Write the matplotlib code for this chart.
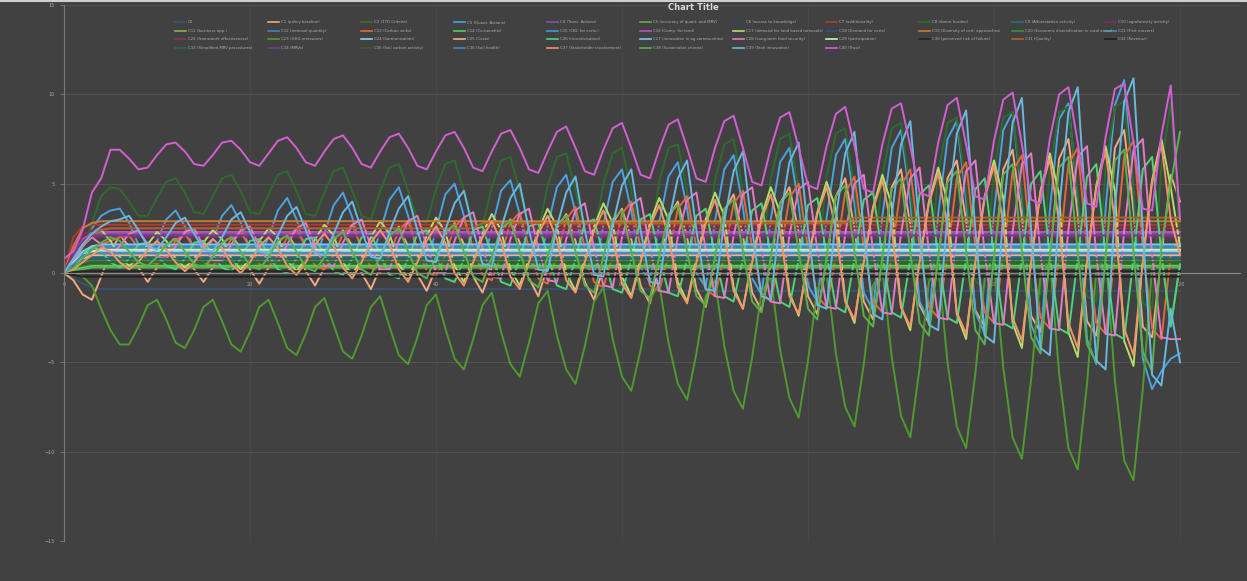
import matplotlib
matplotlib.use("Agg")
import matplotlib.pyplot as plt
from matplotlib.lines import Line2D
import numpy as np

# ============================================================
# 0) Data (read off the reference chart)
# ============================================================
names = [
    "C0", "C1 (policy baseline)", "C2 (17D Criteria)", "C3 (Quant. Actions)", "C4 (Trans. Actions)",
    "C5 (accuracy of quant. and MRV)", "C6 (access to knowledge)", "C7 (additionality)", "C8 (donor burden)",
    "C9 (Afforestation activity)", "C10 (agroforestry activity)",
    "C11 (business opp.)", "C12 (removal quantity)", "C13 (Carbon sinks)", "C14 (Co-benefits)",
    "C15 (CBC for certs.)", "C16 (Comp. for land)", "C17 (demand for land based removals)",
    "C18 (Demand for certs)", "C19 (Diversity of cert. approaches)",
    "C20 (Economic diversification in rural areas)", "C21 (First movers)",
    "C22 (framework effectiveness)", "C23 (GHG emissions)", "C24 (harmonisation)", "C25 (Costs)",
    "C26 (incentivisation)", "C27 (innovation in ag communities)", "C28 (Long-term food security)",
    "C29 (participation)", "C30 (perceived risk of failure)", "C31 (Quality)", "C32 (Revenue)",
    "C33 (Simplified MRV procedures)", "C34 (MRVs)", "C35 (Soil carbon activity)", "C36 (Soil health)",
    "C37 (Stakeholder involvement)", "C38 (Sustainable criteria)", "C39 (Tech innovation)", "C40 (Trust)",
]

c0 = [0.0, -0.3, -0.6, -0.8] + [-0.9] * 60 + [-1.0] * 57
c1 = [0.0, -0.4, -1.2, -1.5, -0.2, 1.2,
      2.1, 1.5, 0.3, -0.5, 0.3, 1.5,
      2.0, 1.3, 0.2, -0.5, 0.3, 1.6,
      2.1, 1.4, 0.2, -0.6, 0.3, 1.7,
      2.2, 1.4, 0.1, -0.7, 0.3, 1.8,
      2.4, 1.5, 0.0, -0.9, 0.3, 1.9,
      2.6, 1.5, -0.1, -1.0, 0.3, 2.1,
      2.8, 1.6, -0.2, -1.1, 0.3, 2.3,
      3.0, 1.7, -0.3, -1.3, 0.4, 2.5,
      3.3, 1.8, -0.5, -1.5, 0.4, 2.8,
      3.6, 1.9, -0.7, -1.7, 0.4, 3.1,
      4.0, 2.0, -0.9, -1.9, 0.5, 3.5,
      4.4, 2.1, -1.1, -2.1, 0.5, 3.9,
      4.8, 2.3, -1.3, -2.3, 0.6, 4.3,
      5.3, 2.5, -1.6, -2.6, 0.6, 4.8,
      5.8, 2.7, -1.8, -2.8, 0.7, 5.3,
      6.3, 2.9, -2.1, -3.0, 0.7, 5.8,
      6.9, 3.1, -2.4, -3.3, 0.8, 6.4,
      7.5, 3.3, -2.7, -3.5, 0.8, 7.0,
      8.0, 3.5, -3.0, -3.6, 0.9, 5.5,
      4.0]
c2 = [0.0, 0.2, 0.4] + [0.5] * 118
c3 = [0.0, 0.6, 1.5, 2.5, 3.2, 3.5,
      3.6, 2.8, 1.6, 1.1, 1.8, 3.0,
      3.5, 2.6, 1.3, 1.0, 1.9, 3.2,
      3.8, 2.8, 1.3, 0.9, 2.0, 3.5,
      4.2, 3.0, 1.3, 0.8, 2.2, 3.8,
      4.5, 3.1, 1.2, 0.7, 2.3, 4.1,
      4.8, 3.2, 1.1, 0.5, 2.4, 4.4,
      5.0, 3.2, 0.9, 0.3, 2.5, 4.6,
      5.2, 3.3, 0.7, 0.1, 2.6, 4.8,
      5.5, 3.4, 0.5, -0.2, 2.7, 5.1,
      5.8, 3.5, 0.3, -0.5, 2.8, 5.4,
      6.2, 3.6, 0.0, -0.8, 2.9, 5.8,
      6.6, 3.7, -0.3, -1.2, 3.0, 6.2,
      7.0, 3.8, -0.7, -1.6, 3.1, 6.6,
      7.5, 3.9, -1.1, -2.1, 3.2, 7.0,
      8.0, 4.0, -1.6, -2.7, 3.3, 7.5,
      8.5, 4.1, -2.2, -3.4, 3.4, 8.0,
      9.0, 4.2, -2.9, -4.2, 3.5, 8.6,
      9.5, 4.3, -3.7, -5.1, 3.6, 9.4,
      10.8, 4.4, -4.8, -6.5, -5.5, -4.8,
      -4.5]
c4 = [0.0, 0.8, 1.6, 2.0] + [2.2] * 117
c5 = [0.0, 0.1, 0.2] + [0.3] * 118
c6 = [0.0, 0.3, 0.5] + [0.6] * 118
c7 = [0.0, 2.0, 2.6] + [2.7] * 118
c8 = [0.0, 0.4, 1.2, 2.8, 4.3, 4.8,
      4.7, 4.0, 3.2, 3.2, 4.2, 5.1,
      5.3, 4.5, 3.4, 3.3, 4.3, 5.3,
      5.5, 4.6, 3.4, 3.3, 4.4, 5.5,
      5.7, 4.6, 3.3, 3.2, 4.5, 5.7,
      5.9, 4.6, 3.2, 3.0, 4.6, 5.9,
      6.1, 4.6, 3.0, 2.8, 4.7, 6.1,
      6.3, 4.6, 2.8, 2.6, 4.8, 6.3,
      6.5, 4.6, 2.5, 2.3, 4.9, 6.5,
      6.7, 4.6, 2.2, 2.0, 5.0, 6.7,
      7.0, 4.6, 1.9, 1.6, 5.1, 7.0,
      7.2, 4.6, 1.5, 1.2, 5.2, 7.2,
      7.5, 4.6, 1.1, 0.8, 5.3, 7.5,
      7.8, 4.6, 0.7, 0.4, 5.4, 7.8,
      8.1, 4.6, 0.3, 0.0, 5.5, 8.1,
      8.4, 4.6, -0.1, -0.4, 5.6, 8.4,
      8.7, 4.6, -0.5, -0.8, 5.7, 8.7,
      9.0, 4.6, -0.9, -1.2, 5.8, 9.0,
      9.3, 4.6, -1.3, -1.6, 5.9, 9.3,
      9.6, 4.6, -1.7, -2.0, 6.0, 9.5,
      2.0]
c9 = [0.0, 0.4, 0.7] + [0.9] * 118
c10 = [0.0, 1.0, 1.7] + [2.0] * 118
c11 = [0.0, 0.4, 0.8, 1.0] + [1.1] * 117
c12 = [0.0, 0.6, 1.1, 1.4] + [1.5] * 117
c13 = [0.0, 0.5, 1.0, 1.4, 1.6, 1.8,
       2.0, 2.1, 1.4, 0.7, 0.5, 1.0,
       1.8, 2.2, 1.4, 0.6, 0.4, 1.0,
       1.9, 2.3, 1.4, 0.5, 0.3, 1.0,
       2.0, 2.5, 1.4, 0.4, 0.2, 1.0,
       2.2, 2.7, 1.4, 0.3, 0.0, 1.0,
       2.4, 2.9, 1.4, 0.1, -0.2, 1.0,
       2.6, 3.1, 1.4, -0.1, -0.4, 1.0,
       2.8, 3.4, 1.4, -0.3, -0.6, 1.0,
       3.0, 3.7, 1.4, -0.5, -0.8, 1.0,
       3.3, 4.0, 1.4, -0.7, -1.0, 1.0,
       3.6, 4.3, 1.4, -0.9, -1.3, 1.0,
       3.9, 4.6, 1.4, -1.1, -1.6, 1.0,
       4.2, 5.0, 1.4, -1.3, -1.9, 1.0,
       4.5, 5.4, 1.4, -1.6, -2.2, 1.0,
       4.9, 5.8, 1.4, -1.9, -2.5, 1.0,
       5.3, 6.2, 1.4, -2.2, -2.8, 1.0,
       5.7, 6.6, 1.4, -2.5, -3.1, 1.0,
       6.1, 7.0, 1.4, -2.8, -3.4, 1.0,
       6.5, 7.4, 1.4, -3.1, -3.7, 1.0,
       2.0]
c14 = [0.0, 0.2, 0.3] + [0.4] * 118
c15 = [0.0, 0.5, 0.9, 1.2] + [1.3] * 117
c16 = [0.0, 1.0, 1.9, 2.2] + [2.3] * 117
c17 = [0.0, 0.6, 1.5, 2.1, 2.4, 1.8,
       0.9, 0.4, 0.8, 1.6, 2.3, 1.8,
       0.8, 0.3, 0.8, 1.7, 2.4, 1.9,
       0.8, 0.2, 0.8, 1.8, 2.5, 2.0,
       0.7, 0.1, 0.8, 1.9, 2.7, 2.1,
       0.6, -0.1, 0.8, 2.0, 2.9, 2.2,
       0.5, -0.3, 0.8, 2.1, 3.1, 2.3,
       0.4, -0.5, 0.8, 2.2, 3.3, 2.4,
       0.2, -0.7, 0.8, 2.4, 3.6, 2.6,
       0.0, -1.0, 0.8, 2.6, 3.9, 2.8,
       -0.2, -1.3, 0.8, 2.8, 4.2, 3.0,
       -0.5, -1.6, 0.8, 3.0, 4.5, 3.2,
       -0.8, -2.0, 0.8, 3.2, 4.8, 3.4,
       -1.1, -2.4, 0.8, 3.4, 5.1, 3.6,
       -1.5, -2.8, 0.8, 3.7, 5.5, 3.8,
       -1.9, -3.2, 0.8, 4.0, 5.9, 4.0,
       -2.3, -3.7, 0.8, 4.3, 6.3, 4.2,
       -2.8, -4.2, 0.8, 4.6, 6.7, 4.4,
       -3.3, -4.7, 0.8, 4.9, 7.1, 4.6,
       -3.8, -5.2, 0.8, 5.2, 7.5, 4.8,
       1.5]
c18 = [0.0, 0.5, 0.9] + [1.1] * 118
c19 = [0.0, 1.5, 2.5, 2.8] + [2.9] * 117
c20 = [0.0, 0.4, 0.6] + [0.7] * 118
c21 = [0.0, 0.6, 1.1, 1.3] + [1.4] * 117
c22 = [0.0, 1.2, 2.1, 2.4] + [2.5] * 117
c23 = [0.0, 0.0, -0.2, -0.7, -2.0, -3.2,
       -4.0, -4.0, -3.0, -1.8, -1.5, -2.6,
       -3.9, -4.2, -3.2, -1.9, -1.5, -2.7,
       -4.0, -4.4, -3.3, -1.9, -1.5, -2.8,
       -4.2, -4.6, -3.4, -1.9, -1.4, -2.9,
       -4.4, -4.8, -3.5, -1.9, -1.3, -3.0,
       -4.6, -5.1, -3.6, -1.8, -1.2, -3.1,
       -4.8, -5.4, -3.7, -1.8, -1.1, -3.3,
       -5.1, -5.8, -3.9, -1.7, -1.0, -3.5,
       -5.4, -6.2, -4.1, -1.6, -0.8, -3.7,
       -5.8, -6.6, -4.3, -1.5, -0.6, -3.9,
       -6.2, -7.1, -4.5, -1.3, -0.4, -4.1,
       -6.6, -7.6, -4.7, -1.1, -0.2, -4.3,
       -7.0, -8.1, -4.9, -0.9, 0.0, -4.5,
       -7.5, -8.6, -5.1, -0.7, 0.2, -4.7,
       -8.0, -9.2, -5.3, -0.5, 0.4, -5.0,
       -8.6, -9.8, -5.6, -0.3, 0.6, -5.3,
       -9.2, -10.4, -5.9, -0.1, 0.8, -5.6,
       -9.8, -11.0, -6.2, 0.1, 1.0, -6.0,
       -10.5, -11.6, -6.5, 0.3, 1.2, -3.0,
       0.5]
c24 = [0.0, 0.6, 1.0] + [1.2] * 118
c25 = [0.0, 0.4, 0.8] + [1.0] * 118
c26 = [0.0, 0.4, 1.0, 1.5, 1.2, 0.6,
       0.3, 0.8, 1.6, 1.7, 1.0, 0.4,
       0.2, 0.8, 1.7, 1.8, 1.0, 0.3,
       0.1, 0.8, 1.8, 1.9, 1.0, 0.2,
       0.0, 0.8, 1.9, 2.0, 1.0, 0.1,
       -0.1, 0.8, 2.0, 2.2, 1.0, -0.1,
       -0.3, 0.8, 2.2, 2.4, 1.0, -0.3,
       -0.5, 0.8, 2.4, 2.6, 1.0, -0.5,
       -0.7, 0.8, 2.6, 2.8, 1.0, -0.7,
       -0.9, 0.8, 2.8, 3.0, 1.0, -0.9,
       -1.1, 0.8, 3.0, 3.3, 1.0, -1.1,
       -1.3, 0.8, 3.2, 3.6, 1.0, -1.3,
       -1.6, 0.8, 3.5, 3.9, 1.0, -1.6,
       -1.9, 0.8, 3.8, 4.2, 1.0, -1.9,
       -2.2, 0.8, 4.1, 4.5, 1.0, -2.2,
       -2.5, 0.8, 4.4, 4.9, 1.0, -2.5,
       -2.8, 0.8, 4.7, 5.3, 1.0, -2.8,
       -3.1, 0.8, 5.0, 5.7, 1.0, -3.1,
       -3.4, 0.8, 5.4, 6.1, 1.0, -3.4,
       -3.7, 0.8, 5.8, 6.5, 1.0, -3.0,
       0.5]
c27 = [0.0, 0.7, 1.2, 1.5] + [1.6] * 117
c28 = [0.0, 0.7, 1.5, 2.0, 1.6, 1.0,
       1.5, 2.2, 2.4, 1.6, 0.9, 0.8,
       1.5, 2.3, 2.5, 1.5, 0.7, 0.7,
       1.6, 2.4, 2.6, 1.5, 0.6, 0.6,
       1.6, 2.5, 2.8, 1.5, 0.4, 0.4,
       1.7, 2.7, 3.0, 1.5, 0.2, 0.2,
       1.8, 2.9, 3.2, 1.5, 0.0, 0.0,
       1.8, 3.1, 3.4, 1.4, -0.2, -0.3,
       1.9, 3.3, 3.6, 1.4, -0.4, -0.5,
       1.9, 3.5, 3.9, 1.4, -0.7, -0.8,
       2.0, 3.8, 4.2, 1.4, -1.0, -1.1,
       2.0, 4.1, 4.5, 1.3, -1.3, -1.4,
       2.1, 4.4, 4.8, 1.3, -1.6, -1.7,
       2.1, 4.7, 5.1, 1.3, -1.9, -2.0,
       2.2, 5.0, 5.5, 1.2, -2.2, -2.3,
       2.2, 5.3, 5.9, 1.2, -2.5, -2.6,
       2.3, 5.7, 6.3, 1.1, -2.8, -2.9,
       2.3, 6.1, 6.7, 1.1, -3.1, -3.2,
       2.4, 6.5, 7.1, 1.0, -3.4, -3.5,
       2.4, 6.9, 7.5, 1.0, -3.6, -3.7,
       -3.7]
c29 = [0.0, 0.6, 1.0, 1.2] + [1.3] * 117
c30 = [0.0, 0.05] + [0.1] * 119
c31 = [0.0, 0.8, 1.6, 2.1, 2.4] + [2.5] * 40 + [2.8] * 40 + [3.1] * 36
c32 = [0.0, -0.1] + [-0.2] * 119
c33 = [0.0, 0.4, 0.7] + [0.8] * 118
c34 = [0.0, 1.0, 1.8] + [2.1] * 118
c35 = [0.0, 0.3, 0.5] + [0.6] * 118
c36 = [0.0, 0.5, 1.0] + [1.1] * 118
c37 = [0.0, 0.2, 0.6, 1.0, 1.4, 1.2,
       0.6, 0.2, 0.6, 1.3, 1.8, 1.3,
       0.6, 0.1, 0.6, 1.4, 1.9, 1.4,
       0.5, 0.0, 0.6, 1.5, 2.0, 1.4,
       0.4, -0.1, 0.6, 1.6, 2.2, 1.5,
       0.3, -0.3, 0.6, 1.7, 2.4, 1.6,
       0.2, -0.5, 0.6, 1.8, 2.6, 1.7,
       0.0, -0.7, 0.6, 2.0, 2.9, 1.8,
       -0.2, -0.9, 0.6, 2.2, 3.2, 1.9,
       -0.4, -1.1, 0.6, 2.4, 3.5, 2.0,
       -0.6, -1.4, 0.6, 2.6, 3.8, 2.1,
       -0.8, -1.7, 0.6, 2.8, 4.1, 2.2,
       -1.0, -2.0, 0.6, 3.0, 4.4, 2.3,
       -1.3, -2.3, 0.6, 3.3, 4.8, 2.4,
       -1.6, -2.6, 0.6, 3.6, 5.2, 2.5,
       -1.9, -3.0, 0.6, 3.9, 5.6, 2.6,
       -2.2, -3.4, 0.6, 4.2, 6.0, 2.7,
       -2.5, -3.8, 0.6, 4.5, 6.4, 2.8,
       -2.8, -4.2, 0.6, 4.8, 6.8, 2.9,
       -3.1, -4.6, 0.6, 5.1, 7.2, 3.0,
       1.0]
c38 = [0.0, 0.3, 0.8, 1.3, 1.7, 2.0,
       1.8, 1.2, 0.6, 0.4, 0.9, 1.6,
       1.9, 1.2, 0.5, 0.3, 0.9, 1.7,
       2.0, 1.2, 0.4, 0.2, 0.9, 1.8,
       2.1, 1.2, 0.3, 0.1, 0.9, 1.9,
       2.3, 1.2, 0.2, -0.1, 0.9, 2.1,
       2.5, 1.2, 0.0, -0.3, 0.9, 2.3,
       2.7, 1.2, -0.2, -0.5, 0.9, 2.5,
       2.9, 1.2, -0.4, -0.8, 0.9, 2.7,
       3.2, 1.2, -0.7, -1.1, 0.9, 3.0,
       3.5, 1.2, -1.0, -1.4, 0.9, 3.3,
       3.8, 1.2, -1.3, -1.8, 0.9, 3.6,
       4.1, 1.2, -1.6, -2.2, 0.9, 3.9,
       4.5, 1.2, -2.0, -2.6, 0.9, 4.3,
       4.9, 1.2, -2.4, -3.0, 0.9, 4.7,
       5.3, 1.2, -2.8, -3.5, 0.9, 5.1,
       5.7, 1.2, -3.2, -4.0, 0.9, 5.5,
       6.1, 1.2, -3.6, -4.5, 0.9, 5.9,
       6.5, 1.2, -4.0, -5.0, 0.9, 6.3,
       6.9, 1.2, -4.4, -5.5, 1.5, 5.0,
       7.9]
c39 = [0.0, 0.8, 1.6, 2.2, 2.6, 2.9,
       3.0, 3.2, 2.4, 1.5, 1.3, 2.0,
       2.8, 3.1, 2.2, 1.3, 1.2, 2.0,
       3.0, 3.4, 2.3, 1.2, 1.1, 2.1,
       3.2, 3.7, 2.4, 1.1, 1.0, 2.2,
       3.4, 4.0, 2.4, 0.9, 0.8, 2.3,
       3.6, 4.3, 2.4, 0.7, 0.6, 2.4,
       3.9, 4.6, 2.4, 0.5, 0.4, 2.5,
       4.2, 5.0, 2.4, 0.2, 0.1, 2.6,
       4.5, 5.4, 2.4, -0.1, -0.2, 2.7,
       4.9, 5.8, 2.4, -0.5, -0.6, 2.8,
       5.3, 6.3, 2.4, -0.9, -1.0, 2.9,
       5.7, 6.8, 2.4, -1.3, -1.5, 3.0,
       6.2, 7.3, 2.4, -1.8, -2.0, 3.1,
       6.7, 7.9, 2.4, -2.3, -2.6, 3.2,
       7.2, 8.5, 2.4, -2.9, -3.2, 3.3,
       7.8, 9.1, 2.4, -3.5, -3.9, 3.4,
       8.4, 9.8, 2.4, -4.2, -4.6, 3.5,
       9.0, 10.4, 2.4, -4.9, -5.4, 3.6,
       9.6, 10.9, 2.4, -5.7, -6.3, -2.0,
       -5.0]
c40 = [0.8, 1.2, 2.4, 4.5, 5.3, 6.9,
       6.9, 6.4, 5.8, 5.9, 6.6, 7.2,
       7.3, 6.8, 6.1, 6.0, 6.6, 7.3,
       7.4, 6.9, 6.2, 6.0, 6.7, 7.4,
       7.6, 7.0, 6.2, 6.0, 6.8, 7.5,
       7.7, 7.0, 6.1, 5.9, 6.8, 7.6,
       7.8, 7.0, 6.0, 5.8, 6.8, 7.7,
       7.9, 7.0, 5.9, 5.7, 6.8, 7.8,
       8.0, 7.0, 5.8, 5.6, 6.8, 7.9,
       8.2, 7.0, 5.7, 5.5, 6.9, 8.1,
       8.4, 7.0, 5.5, 5.3, 6.9, 8.3,
       8.6, 7.0, 5.3, 5.1, 7.0, 8.5,
       8.8, 7.0, 5.1, 4.9, 7.0, 8.7,
       9.0, 7.0, 4.9, 4.7, 7.1, 8.9,
       9.3, 7.1, 4.7, 4.5, 7.2, 9.2,
       9.5, 7.1, 4.5, 4.3, 7.3, 9.4,
       9.8, 7.2, 4.3, 4.1, 7.4, 9.7,
       10.1, 7.2, 4.1, 3.9, 7.5, 10.0,
       10.4, 7.3, 3.9, 3.7, 7.6, 10.3,
       10.6, 7.3, 3.6, 3.5, 7.7, 10.5,
       3.0]

series = [c0, c1, c2, c3, c4, c5, c6, c7, c8, c9, c10,
          c11, c12, c13, c14, c15, c16, c17, c18, c19, c20,
          c21, c22, c23, c24, c25, c26, c27, c28, c29, c30,
          c31, c32, c33, c34, c35, c36, c37, c38, c39, c40]

colors = [
    "#3a5270", "#f2a97e", "#3d6e2e", "#4aa3df", "#8e4fa8", "#6aa84f", "#33415f", "#b03a33",
    "#2e6b2e", "#2f6f7d", "#7a3060", "#8ab04a", "#3a86c8", "#e2683c", "#4fd060", "#3d9de0",
    "#c050c0", "#b8dc6a", "#2f4f8f", "#c87a35", "#3a903a", "#3a8fb0", "#8f2f50", "#4f9a2f",
    "#90cff0", "#f3b38a", "#4fd27a", "#82c2f0", "#e47ac8", "#d2f0b4", "#262626", "#a8662a",
    "#202020", "#2f5e6e", "#6d3e92", "#3f5d2e", "#3f86c8", "#f2956a", "#5ab04a", "#6ab8e0",
    "#d35fd3",
]

x_ticks = [0, 20, 40, 60, 80, 100, 120]
y_ticks = [-15, -10, -5, 0, 5, 10, 15]

# ============================================================
# 1) Figure
# ============================================================
W, H = 1247, 581
bg = "#414141"
fig = plt.figure(figsize=(W / 100, H / 100), dpi=100, facecolor=bg)
ax = fig.add_axes([64 / W, 40 / H, 1176 / W, 536 / H])
ax.set_facecolor(bg)

for s, col in zip(series, colors):
    ax.plot(np.arange(len(s)), s, color=col, lw=1.4, solid_joinstyle="round")

ax.set_xlim(0, 1176 / 9.3)
ax.set_ylim(-15, 15)
ax.set_xticks(x_ticks)
ax.set_yticks(y_ticks)
ax.grid(True, axis="y", color="#575757", lw=0.6)
ax.grid(True, axis="x", color="#4b4b4b", lw=0.5)
ax.set_axisbelow(True)

for side in ["top", "right"]:
    ax.spines[side].set_visible(False)
ax.spines["bottom"].set_position(("data", 0))
ax.spines["bottom"].set_color("#8a8a8a")
ax.spines["left"].set_color("#7a7a7a")
ax.spines["bottom"].set_linewidth(0.8)
ax.spines["left"].set_linewidth(0.8)
ax.tick_params(colors="#8a8a8a", labelcolor="#a8a8a8", labelsize=3.5, length=3, width=0.5)

# title
fig.text(693 / W, 1 - 8 / H, "Chart Title", ha="center", va="center",
         fontsize=6, fontweight="bold", color="#d9d9d9")

# legend: 11 evenly spaced columns, 4 rows
row_y = [22, 31, 39, 48]
for i, (name, col) in enumerate(zip(names, colors)):
    c, r = i % 11, i // 11
    x0 = 175 + c * 93
    y0 = 1 - row_y[r] / H
    fig.add_artist(Line2D([x0 / W, (x0 + 11) / W], [y0, y0], color=col, lw=1.2))
    fig.text((x0 + 13) / W, y0, name, ha="left", va="center", fontsize=2.8, color="#b0b0b0")

# thin light rim at the top of the picture
fig.add_artist(Line2D([0, 1], [1 - 1 / H, 1 - 1 / H], color="#cfcfcf", lw=1.5))

fig.savefig("out.png", dpi=100, facecolor=bg)
